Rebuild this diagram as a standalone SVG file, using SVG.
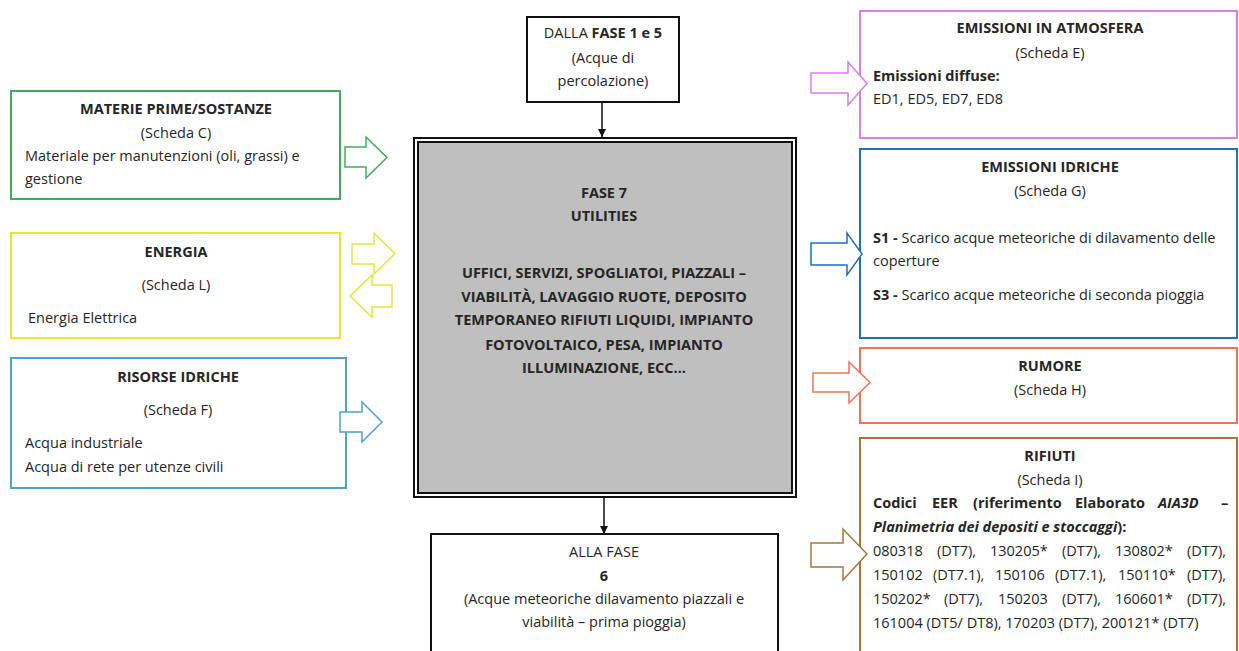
<svg xmlns="http://www.w3.org/2000/svg" width="1239" height="651" viewBox="0 0 1239 651">
<style>
text{font-family:"Open Sans","Liberation Sans",sans-serif;font-size:14.5px;fill:#262626}
.b{font-weight:bold}
.c{text-anchor:middle}
.i{font-style:italic}
.box{fill:#fff;stroke-width:2}
.arr{fill:#fff;stroke-width:1.5;stroke-linejoin:miter}
</style>
<defs>
<marker id="ah" viewBox="0 0 10 10" refX="10" refY="5" markerWidth="8" markerHeight="8" orient="auto" markerUnits="userSpaceOnUse">
<path d="M0,0 L10,5 L0,10 Z" fill="#111"/>
</marker>
</defs>
<rect width="1239" height="651" fill="#fff"/>

<g id="materie">
<rect class="box" x="11" y="91" width="329" height="108" stroke="#3fae5a"/>
<text class="b c" x="176" y="114">MATERIE PRIME/SOSTANZE</text>
<text class="c" x="176" y="138">(Scheda C)</text>
<text x="25" y="161">Materiale per manutenzioni (oli, grassi) e</text>
<text x="25" y="184">gestione</text>
</g>

<g id="energia">
<rect class="box" x="11" y="233" width="329" height="105" stroke="#e6e63a"/>
<text class="b c" x="176" y="257">ENERGIA</text>
<text class="c" x="176" y="290">(Scheda L)</text>
<text x="28" y="323">Energia Elettrica</text>
</g>

<g id="risorse">
<rect class="box" x="11" y="358" width="335" height="130" stroke="#4fa3c8"/>
<text class="b c" x="178" y="382">RISORSE IDRICHE</text>
<text class="c" x="178" y="415">(Scheda F)</text>
<text x="25" y="448">Acqua industriale</text>
<text x="25" y="472">Acqua di rete per utenze civili</text>
</g>

<g id="dalla">
<rect class="box" x="527" y="17" width="152" height="85" stroke="#111"/>
<text class="c" x="603" y="38">DALLA <tspan class="b">FASE 1 e 5</tspan></text>
<text class="c" x="603" y="63">(Acque di</text>
<text class="c" x="603" y="86">percolazione)</text>
</g>

<g id="fase7">
<rect x="414" y="138" width="382" height="359" fill="#fff" stroke="#111" stroke-width="2"/>
<rect x="418" y="142" width="374" height="351" fill="#bfbfbf" stroke="#111" stroke-width="2"/>
<text class="b c" x="604" y="198">FASE 7</text>
<text class="b c" x="604" y="221">UTILITIES</text>
<text class="b c" x="604" y="278">UFFICI, SERVIZI, SPOGLIATOI, PIAZZALI –</text>
<text class="b c" x="604" y="302">VIABILITÀ, LAVAGGIO RUOTE, DEPOSITO</text>
<text class="b c" x="604" y="325">TEMPORANEO RIFIUTI LIQUIDI, IMPIANTO</text>
<text class="b c" x="604" y="350">FOTOVOLTAICO, PESA, IMPIANTO</text>
<text class="b c" x="604" y="373">ILLUMINAZIONE, ECC…</text>
</g>

<g id="alla">
<rect class="box" x="431" y="534" width="347" height="130" stroke="#111"/>
<text class="c" x="604" y="557">ALLA FASE</text>
<text class="b c" x="604" y="581">6</text>
<text class="c" x="604" y="604">(Acque meteoriche dilavamento piazzali e</text>
<text class="c" x="604" y="627">viabilità – prima pioggia)</text>
</g>

<g id="atmosfera">
<rect class="box" x="860" y="11" width="377" height="127" stroke="#d580e6"/>
<text class="b c" x="1050" y="33">EMISSIONI IN ATMOSFERA</text>
<text class="c" x="1050" y="58">(Scheda E)</text>
<text class="b" x="873" y="81">Emissioni diffuse:</text>
<text x="873" y="104">ED1, ED5, ED7, ED8</text>
</g>

<g id="idriche">
<rect class="box" x="860" y="149" width="377" height="189" stroke="#1f6fbd"/>
<text class="b c" x="1050" y="172">EMISSIONI IDRICHE</text>
<text class="c" x="1050" y="196">(Scheda G)</text>
<text x="873" y="243"><tspan class="b">S1 -</tspan> Scarico acque meteoriche di dilavamento delle</text>
<text x="873" y="266">coperture</text>
<text x="873" y="300"><tspan class="b">S3 -</tspan> Scarico acque meteoriche di seconda pioggia</text>
</g>

<g id="rumore">
<rect class="box" x="860" y="348" width="377" height="75" stroke="#f07355"/>
<text class="b c" x="1050" y="371">RUMORE</text>
<text class="c" x="1050" y="395">(Scheda H)</text>
</g>

<g id="rifiuti">
<rect class="box" x="860" y="438" width="377" height="230" stroke="#a8763a"/>
<text class="b c" x="1050" y="461">RIFIUTI</text>
<text class="c" x="1050" y="485">(Scheda I)</text>
<text class="b" y="508"><tspan x="873">Codici</tspan><tspan x="932">EER</tspan><tspan x="973">(riferimento</tspan><tspan x="1075">Elaborato</tspan><tspan x="1158" class="i">AIA3D</tspan><tspan x="1221">–</tspan></text>
<text class="b" x="873" y="532"><tspan class="i">Planimetria dei depositi e stoccaggi</tspan>):</text>
<text y="556"><tspan x="873">080318</tspan><tspan x="937">(DT7),</tspan><tspan x="990">130205*</tspan><tspan x="1062">(DT7),</tspan><tspan x="1115">130802*</tspan><tspan x="1187">(DT7),</tspan></text>
<text y="580"><tspan x="873">150102</tspan><tspan x="933">(DT7.1),</tspan><tspan x="995">150106</tspan><tspan x="1055">(DT7.1),</tspan><tspan x="1118">150110*</tspan><tspan x="1187">(DT7),</tspan></text>
<text y="604"><tspan x="873">150202*</tspan><tspan x="944">(DT7),</tspan><tspan x="998">150203</tspan><tspan x="1062">(DT7),</tspan><tspan x="1115">160601*</tspan><tspan x="1187">(DT7),</tspan></text>
<text x="873" y="628">161004 (DT5/ DT8), 170203 (DT7), 200121* (DT7)</text>
</g>

<g id="connectors">
<line x1="602" y1="102" x2="602" y2="137" stroke="#111" stroke-width="1.5" marker-end="url(#ah)"/>
<line x1="604" y1="497" x2="604" y2="534" stroke="#111" stroke-width="1.5" marker-end="url(#ah)"/>
<path class="arr" stroke="#3fae5a" d="M345,147 H366 V137 L387,157.5 L366,178 V167 H345 Z"/>
<path class="arr" stroke="#e6e63a" d="M352,244 H374 V233 L395,253.5 L374,274 V264 H352 Z"/>
<path class="arr" stroke="#e6e63a" d="M392,285 H372 V275 L350,296 L372,317 V307 H392 Z"/>
<path class="arr" stroke="#4fa3c8" d="M340,412 H362 V402 L382,422 L362,442 V432 H340 Z"/>
<path class="arr" stroke="#d580e6" d="M811,73 H848 V62 L867,83.5 L848,105 V93 H811 Z"/>
<path class="arr" stroke="#1f6fbd" d="M811,243 H847 V233 L862,254 L847,275 V265 H811 Z"/>
<path class="arr" stroke="#f07355" d="M813,373 H849 V362 L870,382.5 L849,403 V392 H813 Z"/>
<path class="arr" stroke="#a8763a" d="M811,543 H843 V529 L867,554 L843,580 V567 H811 Z"/>
</g>
</svg>
